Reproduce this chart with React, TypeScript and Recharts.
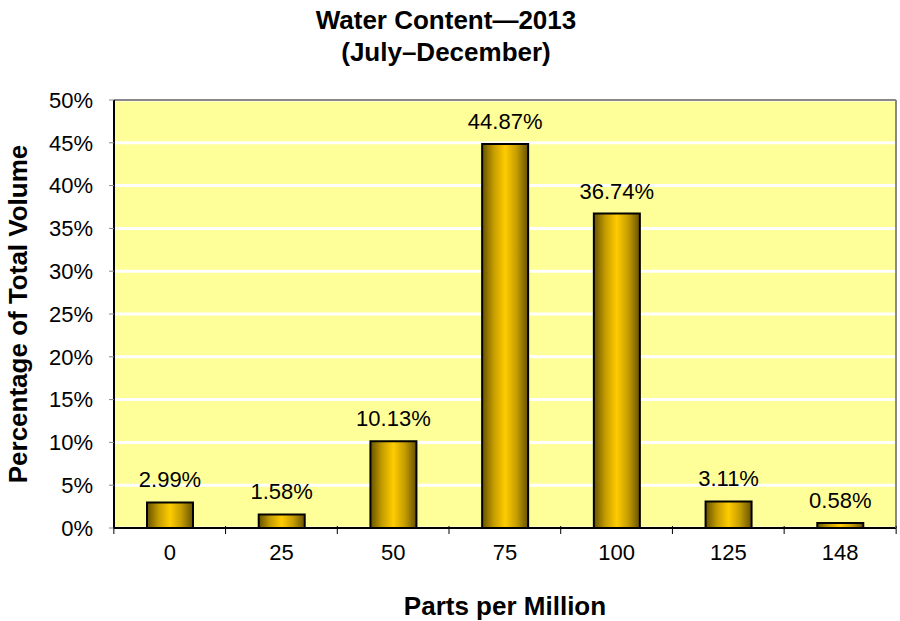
import React from "react";
import {
  BarChart,
  Bar,
  XAxis,
  YAxis,
  CartesianGrid,
  LabelList,
  ReferenceLine,
  Label,
} from "recharts";

const ppmCategories = ["0", "25", "50", "75", "100", "125", "148"];
const volumePercent = [2.99, 1.58, 10.13, 44.87, 36.74, 3.11, 0.58];
const yTicks = [0, 5, 10, 15, 20, 25, 30, 35, 40, 45, 50];

const data = ppmCategories.map((ppm, i) => ({ ppm, value: volumePercent[i] }));

const FONT = "'Liberation Sans', Arial, sans-serif";

function XTick(props: any) {
  const { x, y, payload, index } = props;
  const half = 56;
  return (
    <g>
      <line x1={x - half} y1={y - 10} x2={x - half} y2={y - 2} stroke="#000" strokeWidth={1} />
      {index === ppmCategories.length - 1 && (
        <line x1={x + half} y1={y - 10} x2={x + half} y2={y - 2} stroke="#000" strokeWidth={1} />
      )}
      <text x={x} y={y + 24} textAnchor="middle" fontSize={22} fontFamily={FONT} fill="#000">
        {payload.value}
      </text>
    </g>
  );
}

export default function App() {
  return (
    <div style={{ position: "absolute", left: 0, top: 0, width: 900, height: 621, background: "#fff" }}>
      <div
        style={{
          position: "absolute",
          top: 4,
          left: 0,
          width: 900,
          textAlign: "center",
          fontFamily: FONT,
          fontWeight: "bold",
          fontSize: 26,
          lineHeight: "32px",
          paddingRight: 8,
          boxSizing: "border-box",
        }}
      >
        Water Content—2013
        <br />
        (July–December)
      </div>
      <BarChart
        width={900}
        height={621}
        data={data}
        margin={{ top: 100, right: 3, left: 0, bottom: 0 }}
        barSize={46}
      >
        <defs>
          <linearGradient id="goldBar" x1="0" y1="0" x2="1" y2="0">
            <stop offset="0%" stopColor="#665200" />
            <stop offset="25%" stopColor="#c49c00" />
            <stop offset="50%" stopColor="#ffcc00" />
            <stop offset="75%" stopColor="#c49c00" />
            <stop offset="100%" stopColor="#665200" />
          </linearGradient>
        </defs>
        <CartesianGrid
          vertical={false}
          stroke="#ffffff"
          strokeWidth={3}
          fill="#ffff99"
          fillOpacity={1}
        />
        <ReferenceLine y={50} stroke="#888" strokeWidth={2} />
        <XAxis
          dataKey="ppm"
          axisLine={{ stroke: "#000", strokeWidth: 2 }}
          tickLine={false}
          tick={<XTick />}
          interval={0}
          height={93}
        >
          <Label
            value="Parts per Million"
            position="insideBottom"
            offset={6}
            style={{ fontFamily: FONT, fontWeight: "bold", fontSize: 26, fill: "#000" }}
          />
        </XAxis>
        <YAxis
          yAxisId={0}
          domain={[0, 50]}
          ticks={yTicks}
          interval={0}
          tickFormatter={(v: number) => `${v}%`}
          axisLine={{ stroke: "#000", strokeWidth: 2 }}
          tickLine={{ stroke: "#888" }}
          tickSize={5}
          tickMargin={16}
          tick={{ fontFamily: FONT, fontSize: 22, fill: "#000" }}
          width={114}
        >
          <Label
            value="Percentage of Total Volume"
            angle={-90}
            position="insideLeft"
            offset={18}
            style={{ textAnchor: "middle", fontFamily: FONT, fontWeight: "bold", fontSize: 26, fill: "#000" }}
          />
        </YAxis>
        <YAxis
          yAxisId="right"
          orientation="right"
          domain={[0, 50]}
          axisLine={{ stroke: "#888", strokeWidth: 2 }}
          tick={false}
          tickLine={false}
          width={1}
        />
        <Bar dataKey="value" fill="url(#goldBar)" stroke="#000" strokeWidth={2} isAnimationActive={false}>
          <LabelList
            dataKey="value"
            position="top"
            offset={15}
            formatter={(v: any) => `${Number(v).toFixed(2)}%`}
            style={{ fontFamily: FONT, fontSize: 22, fill: "#000" }}
          />
        </Bar>
      </BarChart>
    </div>
  );
}
